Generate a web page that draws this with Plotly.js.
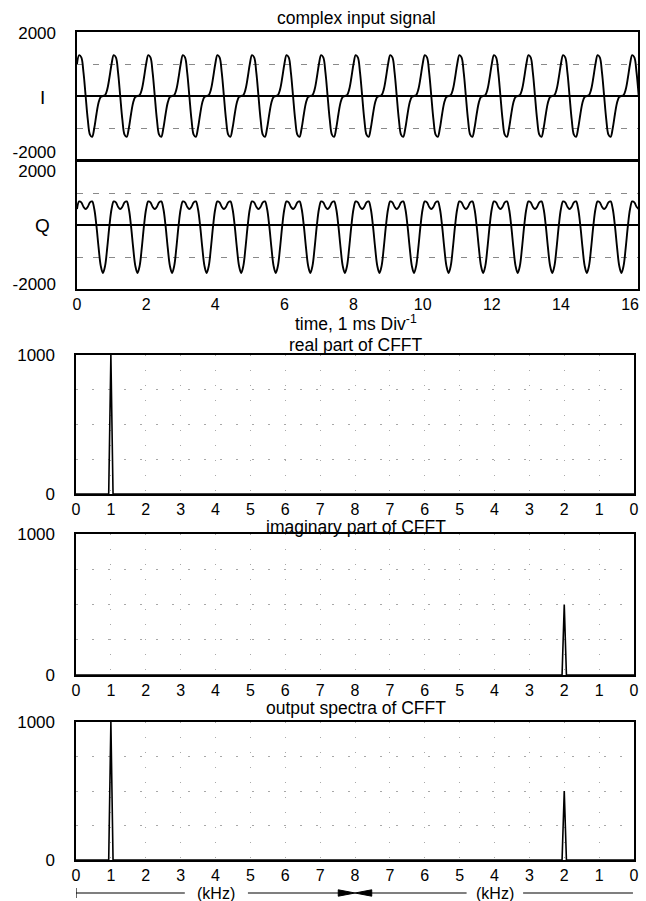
<!DOCTYPE html>
<html>
<head>
<meta charset="utf-8">
<script src="https://cdn.plot.ly/plotly-3.0.1.min.js"></script>
<style>html,body{margin:0;padding:0;background:#fff}#chart{width:646px;height:901px}</style>
</head>
<body>
<div id="chart"></div>
<script>
// ---------------- data ----------------
// complex input signal, sampled every 1/16 ms (16 kHz), 0 .. 16.25 ms
const sampleStepMs = 0.0625;
const iSamples = [
  1000, 1277, 1207, 736, 0, -736, -1207, -1277, -1000, -570, -207, -29, 0, 29, 207, 570,
  1000, 1277, 1207, 736, 0, -736, -1207, -1277, -1000, -570, -207, -29, 0, 29, 207, 570,
  1000, 1277, 1207, 736, 0, -736, -1207, -1277, -1000, -570, -207, -29, 0, 29, 207, 570,
  1000, 1277, 1207, 736, 0, -736, -1207, -1277, -1000, -570, -207, -29, 0, 29, 207, 570,
  1000, 1277, 1207, 736, 0, -736, -1207, -1277, -1000, -570, -207, -29, 0, 29, 207, 570,
  1000, 1277, 1207, 736, 0, -736, -1207, -1277, -1000, -570, -207, -29, 0, 29, 207, 570,
  1000, 1277, 1207, 736, 0, -736, -1207, -1277, -1000, -570, -207, -29, 0, 29, 207, 570,
  1000, 1277, 1207, 736, 0, -736, -1207, -1277, -1000, -570, -207, -29, 0, 29, 207, 570,
  1000, 1277, 1207, 736, 0, -736, -1207, -1277, -1000, -570, -207, -29, 0, 29, 207, 570,
  1000, 1277, 1207, 736, 0, -736, -1207, -1277, -1000, -570, -207, -29, 0, 29, 207, 570,
  1000, 1277, 1207, 736, 0, -736, -1207, -1277, -1000, -570, -207, -29, 0, 29, 207, 570,
  1000, 1277, 1207, 736, 0, -736, -1207, -1277, -1000, -570, -207, -29, 0, 29, 207, 570,
  1000, 1277, 1207, 736, 0, -736, -1207, -1277, -1000, -570, -207, -29, 0, 29, 207, 570,
  1000, 1277, 1207, 736, 0, -736, -1207, -1277, -1000, -570, -207, -29, 0, 29, 207, 570,
  1000, 1277, 1207, 736, 0, -736, -1207, -1277, -1000, -570, -207, -29, 0, 29, 207, 570,
  1000, 1277, 1207, 736, 0, -736, -1207, -1277, -1000, -570, -207, -29, 0, 29, 207, 570,
  1000, 1277, 1207, 736, 0
];
const qSamples = [
  500, 736, 707, 570, 500, 570, 707, 736, 500, -29, -707, -1277, -1500, -1277, -707, -29,
  500, 736, 707, 570, 500, 570, 707, 736, 500, -29, -707, -1277, -1500, -1277, -707, -29,
  500, 736, 707, 570, 500, 570, 707, 736, 500, -29, -707, -1277, -1500, -1277, -707, -29,
  500, 736, 707, 570, 500, 570, 707, 736, 500, -29, -707, -1277, -1500, -1277, -707, -29,
  500, 736, 707, 570, 500, 570, 707, 736, 500, -29, -707, -1277, -1500, -1277, -707, -29,
  500, 736, 707, 570, 500, 570, 707, 736, 500, -29, -707, -1277, -1500, -1277, -707, -29,
  500, 736, 707, 570, 500, 570, 707, 736, 500, -29, -707, -1277, -1500, -1277, -707, -29,
  500, 736, 707, 570, 500, 570, 707, 736, 500, -29, -707, -1277, -1500, -1277, -707, -29,
  500, 736, 707, 570, 500, 570, 707, 736, 500, -29, -707, -1277, -1500, -1277, -707, -29,
  500, 736, 707, 570, 500, 570, 707, 736, 500, -29, -707, -1277, -1500, -1277, -707, -29,
  500, 736, 707, 570, 500, 570, 707, 736, 500, -29, -707, -1277, -1500, -1277, -707, -29,
  500, 736, 707, 570, 500, 570, 707, 736, 500, -29, -707, -1277, -1500, -1277, -707, -29,
  500, 736, 707, 570, 500, 570, 707, 736, 500, -29, -707, -1277, -1500, -1277, -707, -29,
  500, 736, 707, 570, 500, 570, 707, 736, 500, -29, -707, -1277, -1500, -1277, -707, -29,
  500, 736, 707, 570, 500, 570, 707, 736, 500, -29, -707, -1277, -1500, -1277, -707, -29,
  500, 736, 707, 570, 500, 570, 707, 736, 500, -29, -707, -1277, -1500, -1277, -707, -29,
  500, 736, 707, 570, 500
];
const timeTicks = [0, 2, 4, 6, 8, 10, 12, 14, 16];
// y tick labels of the two time panels, placed where the reference prints them
const iTickVals = [-1740, 1970];
const qTickVals = [-1830, 1680];
const timeTickText = ['-2000', '2000'];

// CFFT bins (position along the 0..16 kHz FFT axis; right half = negative frequencies)
const binPosKHz = [0, 0.9375, 1.0, 1.0625, 13.9375, 14.0, 14.0625, 16];
const realPart  = [0, 0, 1000, 0, 0, 0,   0, 0];
const imagPart  = [0, 0, 0,    0, 0, 500, 0, 0];
const magnitude = [0, 0, 1000, 0, 0, 500, 0, 0];
const freqTickVals = [0, 1, 2, 3, 4, 5, 6, 7, 8, 9, 10, 11, 12, 13, 14, 15, 16];
const freqTickText = ['0','1','2','3','4','5','6','7','8','7','6','5','4','3','2','1','0'];

// ---------------- layout helpers ----------------
const W = 646, H = 901;
const fx = p => p / W;
const fy = p => 1 - p / H;
const FONT = 'Liberation Sans, Arial, Helvetica, sans-serif';
const tickFont = {family: FONT, size: 17, color: '#000'};
const xTickFont = {family: FONT, size: 16, color: '#000'};
const lineStyle = {color: '#000', width: 1.9, shape: 'spline', smoothing: 1};
const spikeStyle = {color: '#000', width: 1.6};

const baseAxis = {
  showline: true, mirror: true, linecolor: '#000', linewidth: 1.6,
  ticks: '', zeroline: false, showgrid: false, tickfont: tickFont, fixedrange: true
};
const timeX = Object.assign({}, baseAxis, {domain: [fx(77), fx(638)], range: [0, 16.23], tickvals: timeTicks, tickfont: xTickFont});
const timeY = Object.assign({}, baseAxis, {
  range: [-2000, 2000], ticktext: timeTickText, ticklabelstandoff: 16,
  zeroline: true, zerolinecolor: '#000', zerolinewidth: 1.5,
  minor: {tickvals: [-1000, 1000], showgrid: true, gridcolor: '#8a8a8a', griddash: '6px,10px', gridwidth: 1, ticks: ''}
});
const specX = Object.assign({}, baseAxis, {
  domain: [fx(76), fx(634)], range: [0, 16], tickvals: freqTickVals, ticktext: freqTickText,
  tickfont: xTickFont,
  showgrid: true, gridcolor: '#a8a8a8', griddash: '1px,14px', gridwidth: 1
});
const specY = Object.assign({}, baseAxis, {
  range: [0, 1000], tickvals: [0, 1000], ticklabelstandoff: 16,
  minor: {tickvals: [250, 500, 750], showgrid: true, gridcolor: '#a8a8a8', griddash: '2px,14px', gridwidth: 1, ticks: ''}
});

const traces = [
  {x0: 0, dx: sampleStepMs, y: iSamples, xaxis: 'x', yaxis: 'y', mode: 'lines', line: lineStyle, name: 'I'},
  {x0: 0, dx: sampleStepMs, y: qSamples, xaxis: 'x2', yaxis: 'y2', mode: 'lines', line: lineStyle, name: 'Q'},
  {x: binPosKHz, y: realPart, xaxis: 'x3', yaxis: 'y3', mode: 'lines', line: spikeStyle, name: 'real'},
  {x: binPosKHz, y: imagPart, xaxis: 'x4', yaxis: 'y4', mode: 'lines', line: spikeStyle, name: 'imag'},
  {x: binPosKHz, y: magnitude, xaxis: 'x5', yaxis: 'y5', mode: 'lines', line: spikeStyle, name: 'output'}
];

const titleFont = {family: FONT, size: 17.5, color: '#000'};
const khzFont = {family: FONT, size: 16, color: '#000'};
const ann = (text, x, y, extra) => Object.assign({text, x, y, xref: 'paper', yref: 'paper',
  xanchor: 'center', yanchor: 'middle', showarrow: false, font: titleFont}, extra || {});

const rowY = fy(893);
const annotations = [
  ann('complex input signal', fx(356), fy(18)),
  ann('I', fx(42), fy(97), {font: {family: FONT, size: 19, color: '#000'}}),
  ann('Q', fx(42), fy(225), {font: {family: FONT, size: 19, color: '#000'}}),
  ann('time, 1 ms Div<sup>-1</sup>', fx(356), fy(323)),
  ann('real part of CFFT', fx(356), fy(345)),
  ann('imaginary part of CFFT', fx(356), fy(527)),
  ann('output spectra of CFFT', fx(356), fy(708)),
  {text: '(kHz)', x: 4, y: rowY, xref: 'x5', yref: 'paper', showarrow: false, font: khzFont, yanchor: 'middle'},
  {text: '(kHz)', x: 12, y: rowY, xref: 'x5', yref: 'paper', showarrow: false, font: khzFont, yanchor: 'middle'}
];

const seg = (x0, x1) => ({type: 'line', xref: 'x5', yref: 'paper', x0, x1, y0: rowY, y1: rowY, line: {color: '#000', width: 1.2}});
const hh = 3.2 / H;
const shapes = [
  seg(0, 3.12), seg(4.93, 7.55), seg(8.45, 11.2), seg(12.82, 15.97),
  {type: 'line', xref: 'x5', yref: 'paper', x0: 0, x1: 0, y0: rowY - 1.6 * hh, y1: rowY + 1.6 * hh, line: {color: '#000', width: 1.2}},
  {type: 'path', xref: 'x5', yref: 'paper', path: `M 7.52,${rowY + hh} L 8,${rowY} L 7.52,${rowY - hh} Z`, fillcolor: '#000', line: {color: '#000', width: 1}},
  {type: 'path', xref: 'x5', yref: 'paper', path: `M 8.48,${rowY + hh} L 8,${rowY} L 8.48,${rowY - hh} Z`, fillcolor: '#000', line: {color: '#000', width: 1}}
];

const layout = {
  width: W, height: H, margin: {l: 0, r: 0, t: 0, b: 0},
  paper_bgcolor: '#fff', plot_bgcolor: '#fff', showlegend: false,
  font: {family: FONT, color: '#000'},
  xaxis: Object.assign({}, timeX, {anchor: 'y', showticklabels: false}),
  yaxis: Object.assign({}, timeY, {anchor: 'x', domain: [fy(160), fy(32)], tickvals: iTickVals}),
  xaxis2: Object.assign({}, timeX, {anchor: 'y2'}),
  yaxis2: Object.assign({}, timeY, {anchor: 'x2', domain: [fy(289), fy(161)], tickvals: qTickVals}),
  xaxis3: Object.assign({}, specX, {anchor: 'y3'}),
  yaxis3: Object.assign({}, specY, {anchor: 'x3', domain: [fy(494), fy(355)]}),
  xaxis4: Object.assign({}, specX, {anchor: 'y4'}),
  yaxis4: Object.assign({}, specY, {anchor: 'x4', domain: [fy(675), fy(534)]}),
  xaxis5: Object.assign({}, specX, {anchor: 'y5'}),
  yaxis5: Object.assign({}, specY, {anchor: 'x5', domain: [fy(860), fy(722)]}),
  annotations, shapes
};

Plotly.newPlot('chart', traces, layout, {displayModeBar: false, staticPlot: true});
</script>
</body>
</html>
